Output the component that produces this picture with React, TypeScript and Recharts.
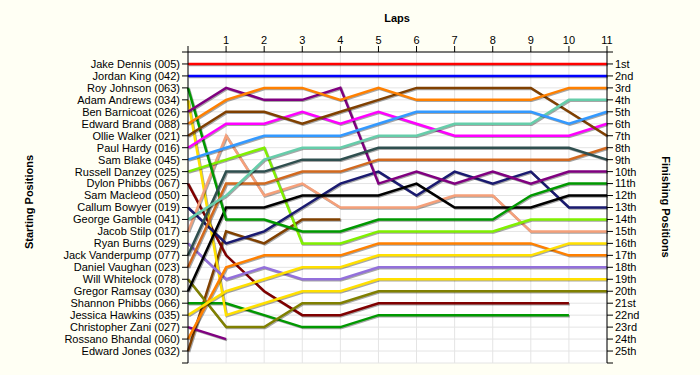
import React from "react";
import { CartesianGrid, Line, LineChart, XAxis, YAxis } from "recharts";

// laps on the top axis
const laps = [0, 1, 2, 3, 4, 5, 6, 7, 8, 9, 10, 11];

// starting grid, top to bottom
const startNames = [
  "Jake Dennis (005)",
  "Jordan King (042)",
  "Roy Johnson (063)",
  "Adam Andrews (034)",
  "Ben Barnicoat (026)",
  "Edward Brand (088)",
  "Ollie Walker (021)",
  "Paul Hardy (016)",
  "Sam Blake (045)",
  "Russell Danzey (025)",
  "Dylon Phibbs (067)",
  "Sam Macleod (050)",
  "Callum Bowyer (019)",
  "George Gamble (041)",
  "Jacob Stilp (017)",
  "Ryan Burns (029)",
  "Jack Vanderpump (077)",
  "Daniel Vaughan (023)",
  "Will Whitelock (078)",
  "Gregor Ramsay (030)",
  "Shannon Phibbs (066)",
  "Jessica Hawkins (035)",
  "Christopher Zani (027)",
  "Rossano Bhandal (060)",
  "Edward Jones (032)",
];

const finishLabels = [
  "1st", "2nd", "3rd", "4th", "5th", "6th", "7th", "8th", "9th", "10th",
  "11th", "12th", "13th", "14th", "15th", "16th", "17th", "18th", "19th", "20th",
  "21st", "22nd", "23rd", "24th", "25th",
];

// position per lap (index = lap), null = not running
const jakeDennis = [1, 1, 1, 1, 1, 1, 1, 1, 1, 1, 1, 1];
const jordanKing = [2, 2, 2, 2, 2, 2, 2, 2, 2, 2, 2, 2];
const royJohnson = [3, 14, 14, 15, 15, 14, 14, 14, 14, 12, 11, 11];
const adamAndrews = [4, 22, 21, 20, 20, 19, 19, 19, 19, 19, 19, 19];
const benBarnicoat = [5, 3, 4, 4, 3, 11, 10, 11, 10, 11, 10, 10];
const edwardBrand = [6, 4, 3, 3, 4, 3, 4, 4, 4, 4, 3, 3];
const ollieWalker = [7, 5, 5, 6, 5, 4, 3, 3, 3, 3, 5, 7];
const paulHardy = [8, 6, 6, 5, 6, 5, 6, 7, 7, 7, 7, 6];
const samBlake = [9, 8, 7, 7, 7, 6, 5, 5, 5, 5, 6, 5];
const russellDanzey = [10, 9, 8, 16, 16, 15, 15, 15, 15, 14, 14, 14];
const dylonPhibbs = [11, 17, 20, 22, 22, 21, 21, 21, 21, 21, 21, null];
const callumBowyer = [13, 16, 15, 13, 11, 10, 12, 10, 11, 10, 13, 13];
const georgeGamble = [14, 12, 9, 8, 8, 7, 7, 6, 6, 6, 4, 4];
const jacobStilp = [15, 7, 12, 11, 13, 13, 13, 12, 12, 15, 15, 15];
const ryanBurns = [16, 19, 18, 19, 19, 18, 18, 18, 18, 18, 18, 18];
const jackVanderpump = [17, 10, 10, 9, 9, 8, 8, 8, 8, 8, 8, 9];
const danielVaughan = [18, 11, 11, 10, 10, 9, 9, 9, 9, 9, 9, 8];
const willWhitelock = [19, 23, 23, 21, 21, 20, 20, 20, 20, 20, 20, 20];
const gregorRamsay = [20, 13, 13, 12, 12, 12, 11, 13, 13, 13, 12, 12];
const shannonPhibbs = [21, 21, 22, 23, 23, 22, 22, 22, 22, 22, 22, null];
const jessicaHawkins = [22, 20, 19, 18, 18, 17, 17, 17, 17, 17, 16, 16];
const christopherZani = [23, 24, null, null, null, null, null, null, null, null, null, null];
const rossanoBhandal = [24, 18, 17, 17, 17, 16, 16, 16, 16, 16, 17, 17];
const edwardJones = [25, 15, 16, 14, 14, null, null, null, null, null, null, null];

const series = [
  { key: "edwardJones", values: edwardJones, color: "#804000" },
  { key: "christopherZani", values: christopherZani, color: "#800080" },
  { key: "shannonPhibbs", values: shannonPhibbs, color: "#009900" },
  { key: "dylonPhibbs", values: dylonPhibbs, color: "#800000" },
  { key: "willWhitelock", values: willWhitelock, color: "#808000" },
  { key: "adamAndrews", values: adamAndrews, color: "#FFE000" },
  { key: "ryanBurns", values: ryanBurns, color: "#9370DB" },
  { key: "rossanoBhandal", values: rossanoBhandal, color: "#FF8000" },
  { key: "jessicaHawkins", values: jessicaHawkins, color: "#FFE000" },
  { key: "jacobStilp", values: jacobStilp, color: "#F5A07A" },
  { key: "russellDanzey", values: russellDanzey, color: "#80F000" },
  { key: "callumBowyer", values: callumBowyer, color: "#1A1A70" },
  { key: "gregorRamsay", values: gregorRamsay, color: "#000000" },
  { key: "royJohnson", values: royJohnson, color: "#009900" },
  { key: "benBarnicoat", values: benBarnicoat, color: "#800080" },
  { key: "danielVaughan", values: danielVaughan, color: "#D2691E" },
  { key: "jackVanderpump", values: jackVanderpump, color: "#2F4F4F" },
  { key: "paulHardy", values: paulHardy, color: "#FF00FF" },
  { key: "ollieWalker", values: ollieWalker, color: "#804000" },
  { key: "georgeGamble", values: georgeGamble, color: "#66CDAA" },
  { key: "samBlake", values: samBlake, color: "#3399FF" },
  { key: "edwardBrand", values: edwardBrand, color: "#FF8000" },
  { key: "jordanKing", values: jordanKing, color: "#0000FF" },
  { key: "jakeDennis", values: jakeDennis, color: "#FF0000" },
];

const data = laps.map((lap, i) => {
  const row: Record<string, number | null> = { lap };
  series.forEach((s) => {
    row[s.key] = s.values[i];
  });
  return row;
});

const posTicks = Array.from({ length: 27 }, (_, i) => i);
const font = "'Liberation Sans', Arial, sans-serif";
const tickStyle = { fontSize: 11, fill: "#000", fontFamily: font };

export default function App() {
  return (
    <div
      style={{
        position: "absolute",
        left: 0,
        top: 0,
        width: 700,
        height: 375,
        background: "#FFFFF4",
        fontFamily: font,
      }}
    >
      <style>{`.recharts-line-curve { filter: drop-shadow(1px 1.5px 0.5px rgba(0,0,0,0.35)); }`}</style>
      <LineChart
        width={700}
        height={375}
        data={data}
        margin={{ top: 22, right: 0, left: 0, bottom: 12 }}
      >
        <CartesianGrid stroke="#E4E4E4" fill="#FFFFFF" yAxisId="left" />
        <XAxis
          dataKey="lap"
          type="number"
          orientation="top"
          domain={[0, 11]}
          ticks={laps}
          tickFormatter={(v) => (v === 0 ? "" : String(v))}
          tick={tickStyle}
          stroke="#000"
          height={30}
        />
        <YAxis
          yAxisId="left"
          type="number"
          domain={[0, 26]}
          ticks={posTicks}
          reversed
          interval={0}
          tickFormatter={(v) => startNames[v - 1] ?? ""}
          tick={tickStyle}
          stroke="#000"
          width={188}
        />
        <YAxis
          yAxisId="right"
          orientation="right"
          type="number"
          domain={[0, 26]}
          ticks={posTicks}
          reversed
          interval={0}
          tickFormatter={(v) => finishLabels[v - 1] ?? ""}
          tick={tickStyle}
          stroke="#000"
          width={93}
        />
        {/* invisible series so the right axis gets drawn */}
        <Line
          yAxisId="right"
          dataKey="jakeDennis"
          stroke="none"
          dot={false}
          activeDot={false}
          isAnimationActive={false}
        />
        {series.map((s) => (
          <Line
            key={s.key}
            yAxisId="left"
            dataKey={s.key}
            type="linear"
            stroke={s.color}
            strokeWidth={2.5}
            dot={false}
            activeDot={false}
            isAnimationActive={false}
          />
        ))}
      </LineChart>
      <div
        style={{
          position: "absolute",
          left: 397,
          top: 18,
          transform: "translate(-50%, -50%)",
          fontSize: 11,
          fontWeight: "bold",
        }}
      >
        Laps
      </div>
      <div
        style={{
          position: "absolute",
          left: 29,
          top: 202,
          transform: "translate(-50%, -50%) rotate(-90deg)",
          fontSize: 11,
          fontWeight: "bold",
          whiteSpace: "nowrap",
        }}
      >
        Starting Positions
      </div>
      <div
        style={{
          position: "absolute",
          left: 666,
          top: 207,
          transform: "translate(-50%, -50%) rotate(90deg)",
          fontSize: 11,
          fontWeight: "bold",
          whiteSpace: "nowrap",
        }}
      >
        Finishing Positions
      </div>
    </div>
  );
}
